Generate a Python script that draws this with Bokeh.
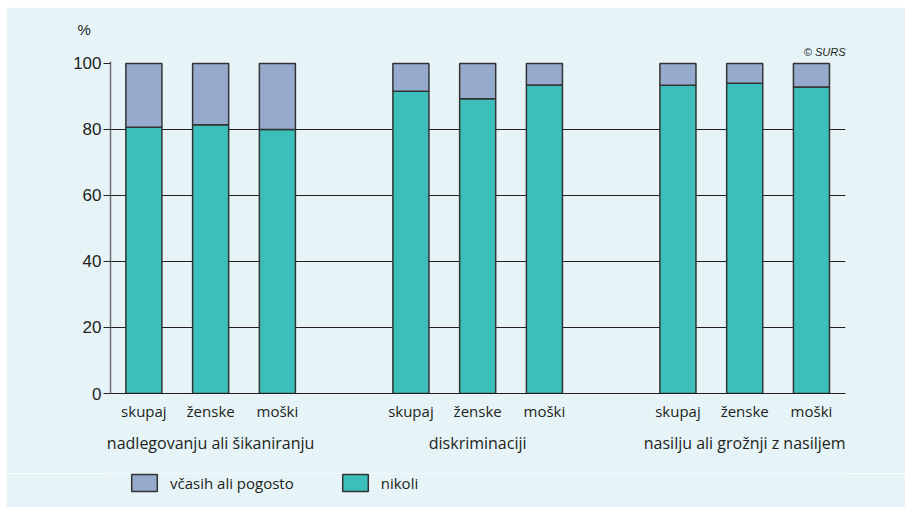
from bokeh.plotting import figure
from bokeh.layouts import column
from bokeh.models import (ColumnDataSource, FixedTicker, LinearAxis, Title, Legend, LegendItem, Range1d)
from bokeh.embed import file_html
from bokeh.resources import INLINE

# ---- data ----
groups = ["nadlegovanju ali šikaniranju", "diskriminaciji", "nasilju ali grožnji z nasiljem"]
subgroups = ["skupaj", "ženske", "moški"]
nikoli = [80.7, 81.4, 80.0, 91.6, 89.3, 93.5, 93.4, 94.0, 92.9]
vcasih = [19.3, 18.6, 20.0, 8.4, 10.7, 6.5, 6.6, 6.0, 7.1]
series_names = ["včasih ali pogosto", "nikoli"]
y_ticks = [0, 20, 40, 60, 80, 100]

# x positions: 3 bars per group, one empty slot between groups
xs = []
for gi in range(len(groups)):
    for si in range(len(subgroups)):
        xs.append(gi * 4 + si)
sub_labels = {x: subgroups[i % 3] for i, x in enumerate(xs)}
group_centers = [gi * 4 + 1 for gi in range(len(groups))]

src = ColumnDataSource(dict(
    x=xs,
    nik_top=nikoli,
    vc_bottom=nikoli,
    vc_top=[a + b for a, b in zip(nikoli, vcasih)],
))

BG = "#e6f3f7"
TEAL = "#3cbfba"
BLUE = "#95aacc"
DARK = "#231f20"
LABEL_FONT = "Open Sans"

p = figure(frame_width=735, frame_height=332, output_backend="svg", toolbar_location=None,
           x_range=Range1d(-0.5, 10.51), y_range=Range1d(0, 100.6),
           min_border_left=104, min_border_right=60, min_border_top=54, min_border_bottom=80,
           x_axis_location=None, y_axis_location=None, title=None)
p.margin = (7, 0, 0, 6)
p.background_fill_color = BG
p.border_fill_color = BG
p.outline_line_color = None

bar_style = dict(width=0.54, line_color="#333333", line_width=1.5)
r_nik = p.vbar(x="x", bottom=0, top="nik_top", source=src, fill_color=TEAL, **bar_style)
r_vc = p.vbar(x="x", bottom="vc_bottom", top="vc_top", source=src, fill_color=BLUE, **bar_style)

# grid
p.xgrid.visible = False
p.ygrid.ticker = FixedTicker(ticks=y_ticks[1:-1])
p.ygrid.grid_line_color = DARK
p.ygrid.grid_line_width = 1

# y axis
yax = LinearAxis(ticker=FixedTicker(ticks=y_ticks))
yax.axis_line_color = "#6d6e71"
yax.axis_line_width = 1.5
yax.major_tick_line_color = DARK
yax.major_tick_out = 7
yax.major_tick_in = 0
yax.minor_tick_line_color = None
yax.major_label_standoff = 2
yax.major_label_text_font = "Liberation Sans"
yax.major_label_text_font_size = "17px"
yax.major_label_text_color = DARK
p.add_layout(yax, "left")

# x axis (subgroups)
xax = LinearAxis(ticker=FixedTicker(ticks=xs))
xax.major_label_overrides = {x: l for x, l in sub_labels.items()}
xax.axis_line_color = DARK
xax.axis_line_width = 1.2
xax.major_tick_line_color = None
xax.minor_tick_line_color = None
xax.major_label_standoff = 1
xax.major_label_text_font = LABEL_FONT
xax.major_label_text_font_size = "15px"
xax.major_label_text_color = DARK
p.add_layout(xax, "below")

# x axis (groups)
gax = LinearAxis(ticker=FixedTicker(ticks=group_centers))
gax.major_label_overrides = {c: g for c, g in zip(group_centers, groups)}
gax.axis_line_color = None
gax.major_tick_line_color = None
gax.minor_tick_line_color = None
gax.major_label_standoff = 2
gax.major_label_text_font = LABEL_FONT
gax.major_label_text_font_size = "16px"
gax.major_label_text_color = DARK
p.add_layout(gax, "below")

# source note and unit label as titles
t_src = Title(text="© SURS", align="right", text_font="Liberation Sans", text_font_style="italic",
              text_font_size="11px", text_color=DARK, standoff=8)
p.add_layout(t_src, "above")
t_unit = Title(text="%", align="left", offset=-33, text_font="Liberation Sans", text_font_style="normal",
               text_font_size="15px", text_color=DARK, standoff=3)
p.add_layout(t_unit, "above")

# ---- legend strip (separate figure below, same data source, hidden glyphs) ----
lg = figure(width=899, height=34, output_backend="svg", toolbar_location=None,
            x_range=Range1d(-0.5, 10.51), y_range=Range1d(0, 100),
            min_border_left=0, min_border_right=0, min_border_top=0, min_border_bottom=0,
            x_axis_location=None, y_axis_location=None, title=None)
lg.margin = (0, 0, 0, 6)
lg.background_fill_color = BG
lg.border_fill_color = BG
lg.outline_line_color = None
lg.xgrid.visible = False
lg.ygrid.visible = False
l_nik = lg.vbar(x="x", bottom=0, top="nik_top", source=src, fill_color=TEAL, visible=False, **bar_style)
l_vc = lg.vbar(x="x", bottom="vc_bottom", top="vc_top", source=src, fill_color=BLUE, visible=False, **bar_style)

legend = Legend(items=[LegendItem(label=series_names[0], renderers=[l_vc]),
                       LegendItem(label=series_names[1], renderers=[l_nik])],
                orientation="horizontal", location=(18, 14))
legend.padding = 0
legend.margin = 0
legend.spacing = 45
legend.glyph_width = 32
legend.glyph_height = 21
legend.label_height = 21
legend.label_standoff = 10
legend.label_text_font = LABEL_FONT
legend.label_text_font_size = "15px"
legend.label_text_color = DARK
legend.border_line_color = None
legend.background_fill_alpha = 0
lg.add_layout(legend, "center")

layout = column(p, lg, spacing=0)
open("out.html", "w").write(file_html(layout, INLINE))
